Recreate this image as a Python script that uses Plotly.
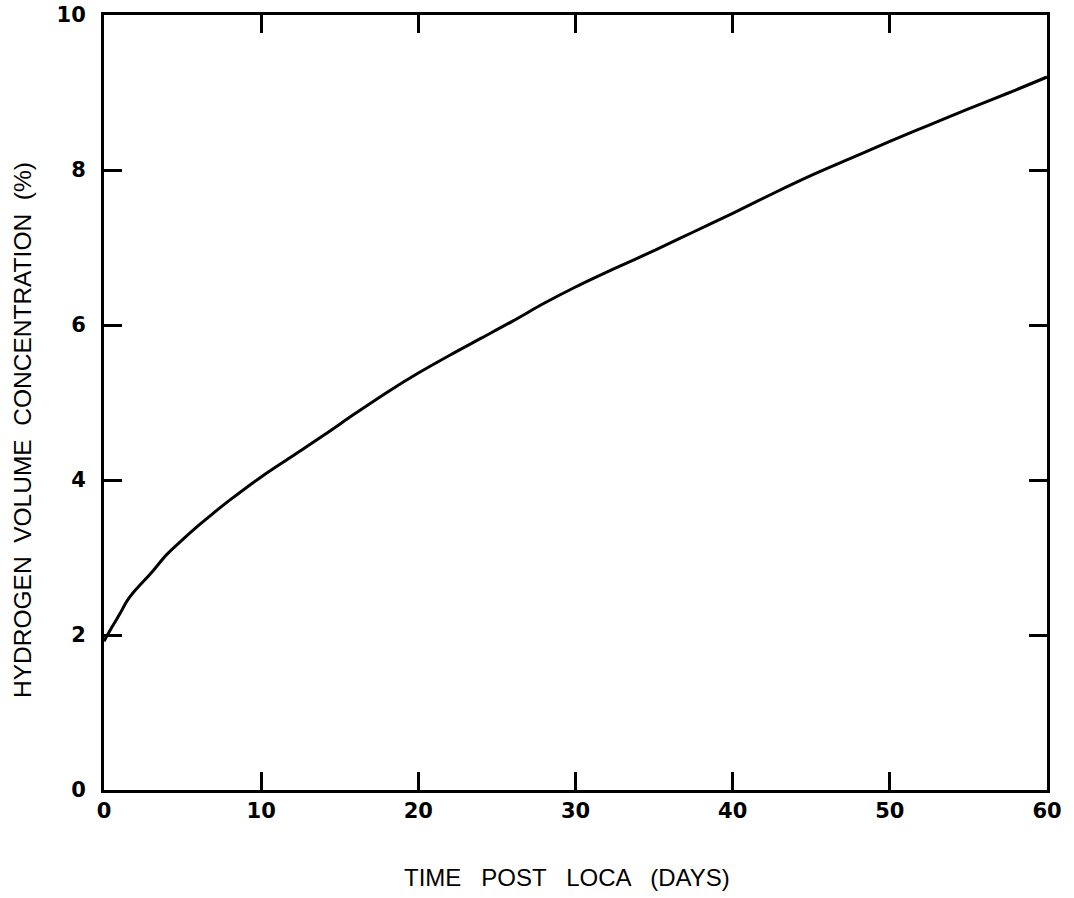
import plotly.graph_objects as go

time_days = [0, 0.5, 1, 1.5, 2, 3, 4, 5, 6, 7, 8, 10, 12, 14, 16, 18, 20, 22, 24, 26, 28, 30,
             32.5, 35, 37.5, 40, 42.5, 45, 47.5, 50, 52.5, 55, 57.5, 60]
h2_conc = [1.92, 2.10, 2.27, 2.45, 2.58, 2.80, 3.04, 3.23, 3.41, 3.58, 3.74, 4.04, 4.31, 4.58,
           4.86, 5.13, 5.38, 5.61, 5.83, 6.05, 6.28, 6.49, 6.73, 6.96, 7.20, 7.44, 7.69,
           7.93, 8.15, 8.37, 8.58, 8.79, 8.99, 9.20]

x_ticks = [0, 10, 20, 30, 40, 50, 60]
y_ticks = [0, 2, 4, 6, 8, 10]

fig = go.Figure()
fig.add_trace(go.Scatter(x=time_days, y=h2_conc, mode="lines", line_shape="spline",
                         line=dict(color="black", width=3), showlegend=False))

tickfont = dict(family="DejaVu Sans", size=21, color="black", weight="bold")
axis_common = dict(showgrid=False, zeroline=False, showline=True, linecolor="black",
                   linewidth=3, ticks="inside", ticklen=18, tickwidth=2.5,
                   tickcolor="black", mirror="ticks", tickfont=tickfont, automargin=False,
                   ticklabeloverflow="allow")

fig.update_xaxes(range=[0, 60], tickvals=x_ticks, ticktext=[str(v) for v in x_ticks],
                 ticklabelstandoff=0, **axis_common)
fig.update_yaxes(range=[0, 10], tickvals=y_ticks, ticktext=[str(v) for v in y_ticks],
                 ticklabelstandoff=11, **axis_common)

# plot-area edges in page pixels
L, R, T, B = 104, 1047, 15, 790
W, H = 1074, 898

fig.add_annotation(text="TIME   POST   LOCA   (DAYS)", xref="paper", yref="paper",
                   x=(567 - L) / (R - L), y=-(877 - B) / (B - T),
                   showarrow=False, xanchor="center", yanchor="middle",
                   font=dict(family="Liberation Sans", size=24, color="black"))
fig.add_annotation(text="HYDROGEN  VOLUME  CONCENTRATION  (%)", xref="paper", yref="paper",
                   x=-(L - 23) / (R - L), y=(B - 430) / (B - T),
                   textangle=-90, showarrow=False, xanchor="center", yanchor="middle",
                   font=dict(family="Liberation Sans", size=24.5, color="black"))

fig.update_layout(width=W, height=H, plot_bgcolor="white", paper_bgcolor="white",
                  margin=dict(l=L, r=W - R, t=T, b=H - B, autoexpand=False))
fig.write_html("out.html", config={"displayModeBar": False},
               post_script="document.body.style.margin='0';document.body.style.overflow='hidden';")
